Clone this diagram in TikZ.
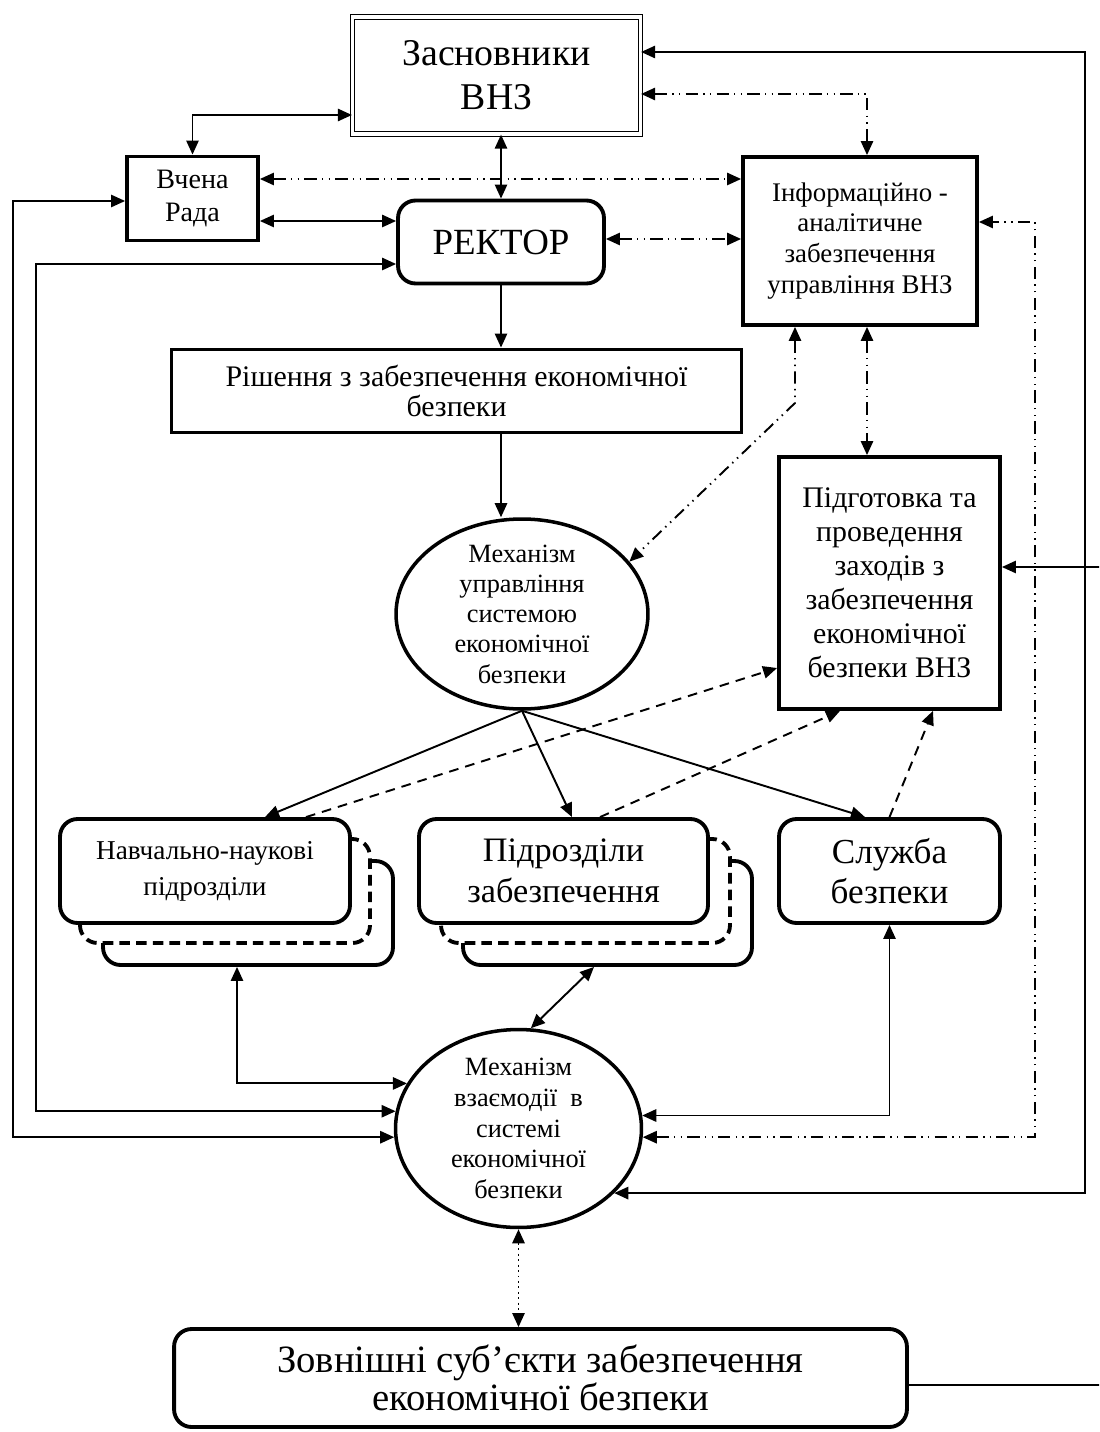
\documentclass[tikz,border=0pt]{standalone}
\usepackage{fontspec}
\setmainfont{Liberation Serif}
\usetikzlibrary{shapes.geometric,arrows.meta,calc}
\newcommand{\fs}[2]{\fontsize{#1}{#2}\selectfont}
\tikzset{
  >={Triangle[length=8pt,width=7pt]},
  every node/.style={align=center,inner sep=0pt},
  box/.style={draw,line width=2.2pt,fill=white},
  rbox/.style={box,rounded corners=10pt},
  dbox/.style={rbox,dash pattern=on 6pt off 3.5pt},
  dblbox/.style={draw,line width=0.7pt,double,double distance=1.8pt},
  oval/.style={draw,ellipse,line width=2pt,fill=white,inner xsep=0pt,inner ysep=-40pt},
  conn/.style={line width=1.1pt},
  dashdots/.style={conn,dash pattern=on 7pt off 3pt on 0.8pt off 3pt on 0.8pt off 3pt},
  dashes/.style={conn,dash pattern=on 5.5pt off 4pt},
  dots/.style={conn,dotted}
}
\begin{document}
\begin{tikzpicture}[x=0.02cm,y=-0.02cm]
    \useasboundingbox (0,0) rectangle (1099,1432);
    \clip (0,0) rectangle (1099,1432);
    \node[dblbox,minimum width=5.76cm,minimum height=2.34cm,font=\fs{21.5}{25}] (zasn) at (496.5,75.5) {Засновники\\ВНЗ};
    \node[box,minimum width=2.62cm,minimum height=1.68cm,font=\fs{16}{18.7}] (vchena) at (192.5,198.5) {Вчена\\Рада};
    \node[rbox,minimum width=4.12cm,minimum height=1.66cm,font=\fs{21}{24}] (rektor) at (501,242) {РЕКТОР};
    \node[box,minimum width=4.68cm,minimum height=3.36cm,font=\fs{15.3}{17.6}] (inform) at (860,241) {Інформаційно -\\аналітичне\\забезпечення\\управління ВНЗ};
    \node[box,minimum width=11.4cm,minimum height=1.66cm,font=\fs{17}{17.5}] (rish) at (456.5,391) {Рішення з забезпечення економічної\\безпеки};
    \node[box,minimum width=4.42cm,minimum height=5.04cm,font=\fs{17}{19.3}] (pidg) at (889.5,583) {Підготовка та\\проведення\\заходів з\\забезпечення\\економічної\\безпеки ВНЗ};
    \node[oval,minimum width=5.04cm,minimum height=3.8cm,font=\fs{15}{17.2}] (mech1) at (522,614) {Механізм\\управління\\системою\\економічної\\безпеки};

    \node[rbox,minimum width=5.8cm,minimum height=2.08cm] (navb) at (248,913) {};
    \node[dbox,minimum width=5.8cm,minimum height=2.08cm] (navd) at (225,891) {};
    \node[rbox,minimum width=5.8cm,minimum height=2.08cm,font=\fs{15.5}{20.4}] (nav) at (205,871) {Навчально-наукові\\підрозділи};
    \node[rbox,minimum width=5.78cm,minimum height=2.08cm] (pidrb) at (607.5,913) {};
    \node[dbox,minimum width=5.78cm,minimum height=2.08cm] (pidrd) at (585.5,891) {};
    \node[rbox,minimum width=5.78cm,minimum height=2.08cm,font=\fs{19.5}{23}] (pidr) at (563.5,871) {Підрозділи\\забезпечення};
    \node[rbox,minimum width=4.42cm,minimum height=2.08cm,font=\fs{20}{22.7}] (sluzh) at (889.5,871) {Служба\\безпеки};

    \node[oval,minimum width=4.92cm,minimum height=3.96cm,font=\fs{15}{17.5}] (mech2) at (518.5,1128.5) {Механізм\\взаємодії\ \ в\\системі\\економічної\\безпеки};
    \node[rbox,minimum width=14.66cm,minimum height=1.96cm,font=\fs{22}{22}] (zovn) at (540.5,1378) {Зовнішні суб’єкти забезпечення\\економічної безпеки};

    \draw[conn,<->] (zasn.east |- 0,52) -- (1085,52) -- (mech2.-34 -| 1085,0) -- (mech2.-34);
    \draw[conn,<->] (zasn.west |- 0,115) -- (vchena.north |- 0,115) -- (vchena.north);
    \draw[conn,<->] (rektor.north) -- (rektor.north |- zasn.south);
    \draw[conn,<->] (vchena.east |- 0,221) -- (rektor.west |- 0,221);
    \draw[dashdots,<->] (vchena.east |- 0,179) -- (inform.west |- 0,179);
    \draw[dashdots,<->] (rektor.east |- 0,239) -- (inform.west |- 0,239);
    \draw[dashdots,<->] (zasn.east |- 0,94) -- (867,94) -- (inform.north -| 867,0);
    \draw[conn,->] (rektor.south) -- (rish.north -| rektor.south);
    \draw[conn,->] (rish.south -| rektor.south) -- (mech1.north -| rektor.south);
    \draw[dashdots,<->] (inform.south -| 795,0) -- (795,403) -- (mech1.26);
    \draw[dashdots,<->] (inform.south -| 867,0) -- (pidg.north -| 867,0);
    \draw[dashdots,<->] (mech2.-4.4) -- (mech2.-4.4 -| 1035,0) -- (1035,222) -- (inform.east |- 0,222);

    \draw[conn,->] (mech1.south) -- (nav.north -| 265,0);
    \draw[conn,->] (mech1.south) -- (pidr.north -| 572,0);
    \draw[conn,->] (mech1.south) -- (sluzh.north -| 865,0);
    \draw[dashes,->] (nav.north -| 306,0) -- (pidg.west |- 0,668);
    \draw[dashes,->] (pidr.north -| 600,0) -- (pidg.south -| 840,0);
    \draw[dashes,->] (sluzh.north) -- (pidg.south -| 933,0);

    \draw[conn,<->] (sluzh.south) -- (sluzh.south |- mech2.6.3) -- (mech2.6.3);
    \draw[conn,<->] (navb.south -| 237,0) -- (mech2.158.7 -| 237,0) -- (mech2.158.7);
    \draw[conn,<->] (pidrb.south -| 594,0) -- (mech2.83);
    \draw[conn,<->] (vchena.west |- 0,201) -- (13,201) -- (mech2.184.4 -| 13,0) -- (mech2.184.4);
    \draw[conn,<->] (rektor.west |- 0,264) -- (36,264) -- (mech2.172.3 -| 36,0) -- (mech2.172.3);
    \draw[dots,<->] (mech2.south) -- (zovn.north -| mech2.south);
    \draw[conn,->] (zovn.east |- 0,1385) -- (1102,1385) -- (1102,567) -- (pidg.east |- 0,567);
\end{tikzpicture}
\end{document}
